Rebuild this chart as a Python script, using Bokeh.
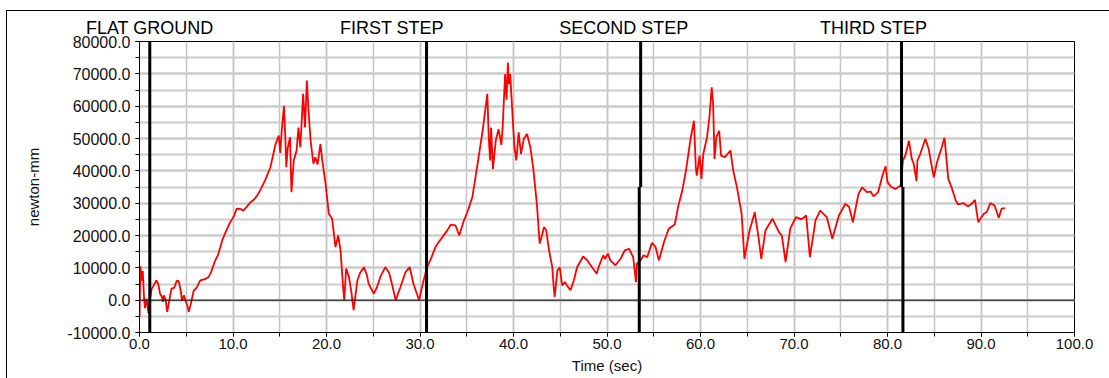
from bokeh.plotting import figure
from bokeh.models import (Range1d, SingleIntervalTicker, FixedTicker, PrintfTickFormatter, Span,
                          LinearAxis)
from bokeh.embed import file_html
from bokeh.resources import INLINE

# ---- data ----
time_sec = [0.0, 0.1, 0.25, 0.35, 0.5, 0.6, 0.75, 0.85, 0.95, 1.05, 1.3, 1.5, 1.8, 2.0, 2.2, 2.4, 2.5, 2.6, 2.8,
            2.96, 3.2, 3.42, 3.7, 4.0, 4.2, 4.4, 4.55, 4.75, 4.9, 5.1, 5.27, 5.5, 5.8, 6.1, 6.5, 7.0, 7.4, 7.7,
            8.1, 8.4, 8.85, 9.2, 9.7, 10.1, 10.4, 10.8, 11.1, 11.5, 11.9, 12.3, 12.6, 13.0, 13.5, 14.0, 14.55,
            14.9, 15.05, 15.2, 15.45, 15.6, 15.7, 15.85, 16.1, 16.25, 16.5, 16.8, 17.0, 17.2, 17.5, 17.7, 17.9,
            18.1, 18.3, 18.6, 18.8, 19.05, 19.35, 19.55, 19.9, 20.25, 20.6, 20.96, 21.25, 21.5, 21.8, 21.9, 22.1,
            22.4, 22.65, 22.9, 23.3, 23.6, 24.0, 24.3, 24.5, 25.05, 25.4, 25.8, 26.3, 26.7, 27.0, 27.4, 27.9,
            28.45, 28.9, 29.3, 29.9, 30.3, 30.75, 31.2, 31.65, 32.0, 32.4, 32.9, 33.3, 33.8, 34.2, 34.7, 35.1,
            35.6, 36.1, 36.7, 37.2, 37.35, 37.5, 37.6, 37.8, 38.1, 38.4, 38.7, 38.85, 39.1, 39.25, 39.4, 39.5,
            39.65, 39.8, 39.95, 40.1, 40.3, 40.55, 40.8, 41.1, 41.45, 41.8, 42.1, 42.5, 42.8, 43.1, 43.25, 43.5,
            43.8, 44.15, 44.3, 44.4, 44.7, 44.95, 45.2, 45.5, 45.7, 46.1, 46.45, 46.8, 47.45, 47.9, 48.4, 48.9,
            49.1, 49.6, 49.8, 50.1, 50.35, 50.9, 51.45, 51.9, 52.35, 52.8, 53.1, 53.2, 53.6, 53.9, 54.3, 54.8,
            55.2, 55.55, 56.1, 56.6, 57.25, 57.6, 58.05, 58.45, 58.9, 59.3, 59.5, 59.6, 59.9, 60.1, 60.3, 60.7,
            60.95, 61.2, 61.35, 61.5, 61.7, 62.0, 62.2, 62.6, 63.2, 63.5, 63.9, 64.4, 64.7, 65.2, 65.8, 66.2,
            66.5, 66.95, 67.7, 68.4, 68.7, 69.1, 69.6, 70.2, 70.8, 71.3, 71.7, 72.3, 72.8, 73.5, 74.1, 74.8,
            75.5, 75.9, 76.3, 76.9, 77.3, 77.8, 78.2, 78.5, 79.0, 79.45, 79.8, 80.0, 80.4, 80.85, 81.4, 81.65,
            81.9, 82.3, 82.6, 82.8, 83.1, 83.2, 83.5, 84.05, 84.4, 84.95, 85.3, 85.8, 86.1, 86.5, 86.85, 87.3,
            87.55, 88.15, 88.6, 89.0, 89.35, 89.7, 90.3, 90.6, 91.0, 91.45, 91.9, 92.2, 92.55]

moment_nmm = [-5200, 10500, 6000, 9000, 0, -2500, 500, -1500, -4000, -1000, 3500, 4500, 6100, 5000, 2000, 1000,
              -500, 1500, 0, -3600, 0, 3600, 3800, 6100, 5800, 3000, -200, 1500, 0, -1500, -3600, -1000, 3000,
              3800, 6100, 6500, 7200, 9000, 12300, 14000, 18500, 21000, 24100, 26000, 28300, 28200, 27700, 29000,
              30300, 31300, 32400, 34500, 37500, 41100, 48300, 50900, 45500, 52000, 60100, 50000, 41100, 47000,
              50400, 33400, 43200, 46300, 53400, 47300, 63800, 53400, 67900, 57600, 49300, 42200, 44200, 42000,
              48300, 43200, 36000, 26700, 25200, 16400, 20000, 15400, 3100, 0, 9800, 7200, 2700, -3100, 6100,
              8500, 10200, 8000, 5100, 2000, 4000, 7500, 10200, 8500, 5000, 0, 4000, 8700, 10200, 5100, 0, 5100,
              10200, 13000, 16400, 18000, 19500, 21500, 23400, 23100, 20000, 24700, 27500, 31900, 41100, 52400,
              63800, 50400, 43200, 53400, 40600, 49300, 52900, 48000, 54000, 69900, 62000, 73500, 66800, 69900,
              62000, 54500, 47300, 43200, 51900, 45200, 49900, 51400, 47300, 41100, 29800, 17500, 20600, 22600,
              21600, 15400, 10200, 4100, 1000, 9200, 10200, 4600, 5600, 4600, 3100, 6100, 10200, 13500, 12300,
              10200, 8200, 10200, 13900, 12800, 14400, 12300, 10800, 12800, 15400, 15900, 13300, 5600, 11300,
              12300, 13900, 13300, 17700, 16400, 12300, 18000, 22100, 23400, 28800, 33900, 40100, 49300, 55500,
              41100, 38500, 44700, 37500, 45200, 50400, 56500, 65800, 60700, 43700, 50400, 52400, 44700, 44200,
              46300, 40100, 34900, 26700, 12800, 21000, 27200, 19500, 12800, 21600, 25200, 21000, 20000, 11800,
              22100, 25700, 25000, 26200, 13300, 24700, 27700, 25700, 19000, 26200, 29800, 28800, 24100, 32900,
              34900, 33400, 33600, 32100, 33400, 38500, 41400, 36500, 35000, 34400, 35500, 43200, 44700, 49300,
              43700, 42200, 36800, 43200, 45200, 49900, 46800, 38000, 42700, 47300, 50200, 37500, 34900, 30800,
              29600, 30000, 29000, 29800, 31000, 24100, 26700, 27200, 30000, 29300, 25500, 28300, 28500]

# phase boundaries (time, sec): upper part / lower part of each marker, and the value where they meet
boundary_upper_t = [1.1, 30.7, 53.6, 81.5]
boundary_lower_t = [1.1, 30.7, 53.45, 81.65]
boundary_break = [35000, 35000, 35000, 35000]

phase_labels = ["FLAT GROUND", "FIRST STEP", "SECOND STEP", "THIRD STEP"]
phase_label_t = [1.1, 27.0, 51.8, 78.5]

FONT = "Liberation Sans"

p = figure(width=1109, height=378, output_backend="svg", toolbar_location=None,
           x_range=Range1d(0, 100), y_range=Range1d(-10000, 80000),
           x_axis_label="Time (sec)", y_axis_label="newton-mm",
           min_border_left=139, min_border_right=35, min_border_top=41, min_border_bottom=46)
p.border_fill_color = None
p.styles = {
    "background": ("linear-gradient(#000,#000) 6px 10px / 1px 100% no-repeat, "
                   "linear-gradient(#000,#000) 6px 10px / 100% 1px no-repeat, #fff"),
}

p.background_fill_color = "white"
p.outline_line_color = "black"
p.outline_line_width = 1

# axes
p.xaxis.ticker = SingleIntervalTicker(interval=10, num_minor_ticks=2)
p.yaxis.ticker = SingleIntervalTicker(interval=10000, num_minor_ticks=2)
p.xaxis.formatter = PrintfTickFormatter(format="%.1f")
p.yaxis.formatter = PrintfTickFormatter(format="%.1f")
for ax in (p.xaxis[0], p.yaxis[0]):
    ax.axis_line_color = "black"
    ax.major_tick_line_color = "black"
    ax.minor_tick_line_color = "black"
    ax.major_tick_in = 0
    ax.major_tick_out = 4
    ax.minor_tick_in = 0
    ax.minor_tick_out = 4
    ax.major_label_text_font = FONT
    ax.major_label_text_color = "#111111"
    ax.axis_label_text_font = FONT
    ax.axis_label_text_font_style = "normal"
    ax.axis_label_text_color = "#111111"
    ax.axis_label_text_font_size = "15px"
p.xaxis.major_label_text_font_size = "15px"
p.yaxis.major_label_text_font_size = "16px"
p.xaxis.major_label_standoff = 2
p.xaxis.axis_label_standoff = 5
p.yaxis.major_label_standoff = 5
p.yaxis.axis_label_standoff = 22

# phase names along the top, as an axis without line or ticks
top_axis = LinearAxis(ticker=FixedTicker(ticks=phase_label_t),
                      major_label_overrides={t: s for t, s in zip(phase_label_t, phase_labels)},
                      axis_line_color=None, major_tick_line_color=None, minor_tick_line_color=None,
                      major_tick_out=0, major_tick_in=0, minor_tick_out=0, minor_tick_in=0,
                      major_label_standoff=4, major_label_text_font=FONT,
                      major_label_text_font_size="18px", major_label_text_color="black")
p.add_layout(top_axis, "above")

# grids
p.xgrid.grid_line_color = "#c4c4c4"
p.xgrid.minor_grid_line_color = "#c4c4c4"
p.xgrid.grid_line_width = 1.5
p.xgrid.minor_grid_line_width = 1.5
p.ygrid.grid_line_color = "#cccccc"
p.ygrid.minor_grid_line_color = "#cccccc"
p.ygrid.grid_line_width = 2
p.ygrid.minor_grid_line_width = 2

p.add_layout(Span(location=0, dimension="width", line_color="black", line_width=1))

# curve
p.line(time_sec, moment_nmm, line_color="#ff0000", line_width=1.8)

# phase markers
p.segment(x0=boundary_upper_t, y0=boundary_break, x1=boundary_upper_t, y1=[80000] * 4,
          line_color="black", line_width=3)
p.segment(x0=boundary_lower_t, y0=[-10000] * 4, x1=boundary_lower_t, y1=boundary_break,
          line_color="black", line_width=3)

open("out.html", "w").write(file_html(p, INLINE))
